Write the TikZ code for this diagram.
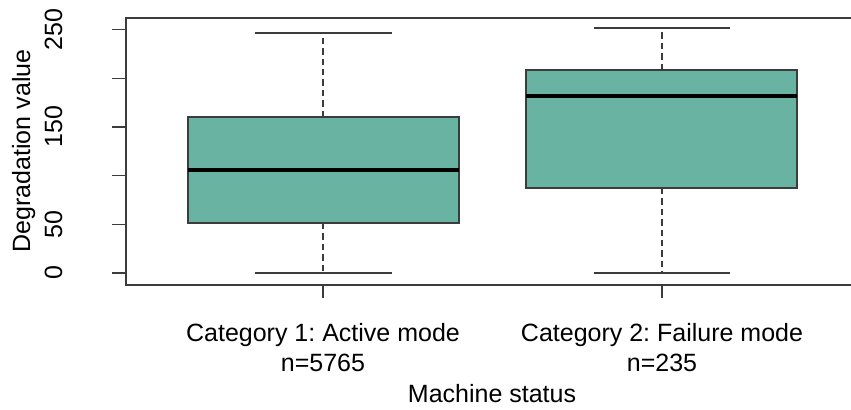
\documentclass[tikz,border=0pt]{standalone}
\usepackage{fontspec}
\setmainfont{Liberation Sans}
\frenchspacing
\definecolor{boxfill}{HTML}{69B3A2}
\definecolor{axisgray}{HTML}{3C3C3C}

\begin{document}
\begin{tikzpicture}[x = 0.5pt, y = -0.5pt, font = \fontsize{12.5}{15}\selectfont,
	box/.style = {draw = axisgray, fill = boxfill, line width = 0.55pt},
	median/.style = {black, line width = 2.1pt},
	whisker/.style = {axisgray, line width = 0.55pt, dash pattern = on 3.2pt off 2pt},
	wcap/.style = {axisgray, line width = 0.6pt},
	tickmark/.style = {axisgray, line width = 0.6pt}]
	\useasboundingbox (0,0) rectangle (851,409);

	% plot frame (right side runs off the page)
	\draw[axisgray, line width = 0.65pt] (126,18) rectangle (859,285);

	% y axis
	\foreach \v in {0,50,...,250}
		\draw[tickmark] (112,{273-0.974*\v}) -- (126,{273-0.974*\v});
	\foreach \v in {0,50,150,250}
		\node[rotate = 90, anchor = base, inner sep = 0pt](Y\v) at (62,{273-0.974*\v}) {\v};
	\node[rotate = 90, anchor = base, inner sep = 0pt](YL) at (30,151) {Degradation value};

	% box 1: active mode
	\draw[whisker] (323,117) -- (323,33);
	\draw[whisker] (323,223) -- (323,273);
	\draw[wcap] (255,33) -- (392,33) (255,273) -- (392,273);
	\draw[box] (188,117) rectangle (459,223);
	\draw[median] (188,170) -- (459,170);

	% box 2: failure mode
	\draw[whisker] (662,70) -- (662,28);
	\draw[whisker] (662,188) -- (662,273);
	\draw[wcap] (594,28) -- (730,28) (594,273) -- (730,273);
	\draw[box] (526,70) rectangle (797,188);
	\draw[median] (526,96) -- (797,96);

	% x axis
	\draw[tickmark] (323,285) -- (323,298) (662,285) -- (662,298);
	\node[anchor = base, inner sep = 0pt](C1) at (323,341) {Category 1: Active mode};
	\node[anchor = base, inner sep = 0pt](N1) at (323,371) {n=5765};
	\node[anchor = base, inner sep = 0pt](C2) at (662,341) {Category 2: Failure mode};
	\node[anchor = base, inner sep = 0pt](N2) at (662,371) {n=235};
	\node[anchor = base, inner sep = 0pt](XL) at (492,402) {Machine status};
\end{tikzpicture}
\end{document}
